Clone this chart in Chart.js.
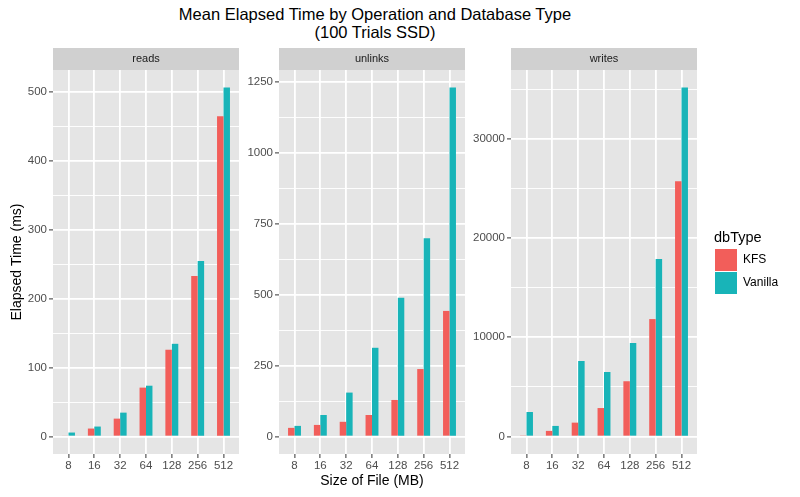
<!DOCTYPE html>
<html><head><meta charset="utf-8">
<script src="https://cdn.jsdelivr.net/npm/chart.js@4/dist/chart.umd.min.js"></script>
<style>
body{margin:0;background:#fff;width:800px;height:497px;overflow:hidden;position:relative;font-family:"Liberation Sans",Arial,sans-serif}
canvas{position:absolute}
#title{position:absolute;left:53px;width:644px;top:5px;text-align:center;font-size:16.5px;line-height:18px;color:#000}
</style></head><body>
<div id="title">Mean Elapsed Time by Operation and Database Type<br>(100 Trials SSD)</div>
<canvas id="c1" width="242" height="457" style="left:0;top:40px"></canvas>
<canvas id="c2" width="227" height="457" style="left:240px;top:40px"></canvas>
<canvas id="c3" width="333" height="457" style="left:467px;top:40px"></canvas>
<script>
const fileSizes = ['8','16','32','64','128','256','512'];
const dbTypes = ['KFS','Vanilla'];
const panels = ['reads','unlinks','writes'];
const readsKFS = [1.4, 11.6, 26, 71, 126, 233, 465];
const readsVanilla = [5.8, 14.5, 34.7, 73.8, 134.6, 254.8, 506.7];
const unlinksKFS = [30.6, 41, 52, 76, 129, 238, 443];
const unlinksVanilla = [37.6, 76, 155, 313, 489, 699, 1231];
const writesKFS = [70, 570, 1400, 2870, 5570, 11830, 25710];
const writesVanilla = [2470, 1070, 7610, 6500, 9420, 17870, 35160];
const readsTicks = [0, 100, 200, 300, 400, 500];
const unlinksTicks = [0, 250, 500, 750, 1000, 1250];
const writesTicks = [0, 10000, 20000, 30000];
const xTitle = 'Size of File (MB)';
const yTitle = 'Elapsed Time (ms)';
const legendTitle = 'dbType';

const FAM = '"Liberation Sans", Arial, sans-serif';
const COL_KFS = '#F25E5A', COL_VAN = '#18B4B8';

const panelBg = {
  id: 'panelBg',
  beforeDraw(chart, args, o) {
    const {ctx, chartArea: a} = chart;
    ctx.save();
    ctx.fillStyle = '#E5E5E5';
    ctx.fillRect(a.left, a.top, a.right - a.left, a.bottom - a.top);
    ctx.fillStyle = '#D0D0D0';
    ctx.fillRect(a.left, a.top - 22, a.right - a.left, 22);
    ctx.fillStyle = '#1A1A1A';
    ctx.font = '11px ' + FAM;
    ctx.textAlign = 'center';
    ctx.textBaseline = 'middle';
    ctx.fillText(o.text, (a.left + a.right) / 2, a.top - 11);
    ctx.restore();
  }
};
const legendShift = {
  id: 'legendShift',
  afterLayout(chart, args, o) {
    if (chart.legend && o && o.left != null && chart.options.plugins.legend.display) {
      const L = chart.legend;
      const w = L.width, h = L.height;
      L.left = o.left; L.right = o.left + w;
      L.top = o.top; L.bottom = o.top + h;
    }
  }
};

function makePanel(id, name, kfs, van, majors, yW, padRight, extra) {
  const ymax = Math.max(...kfs, ...van);
  const step = majors[1] - majors[0];
  const lo = -0.05 * ymax, hi = 1.05 * ymax;
  const all = [];
  for (let v = majors[0] - step / 2; v <= hi; v += step / 2) if (v >= lo) all.push(v);
  const isMajor = v => majors.includes(v);
  const opts = {
    responsive: false, animation: false, devicePixelRatio: 1,
    layout: {padding: {top: 30, right: padRight, left: 0, bottom: 0}},
    plugins: {
      legend: {display: false},
      tooltip: {enabled: false},
      panelBg: {text: name},
      legendShift: {}
    },
    scales: {
      x: {
        type: 'linear', min: 0.4, max: 7.6, offset: false,
        afterBuildTicks: s => { s.ticks = fileSizes.map((_, i) => ({value: i + 1})); },
        afterFit: s => { s.height = 43; },
        ticks: {callback: v => fileSizes[Math.round(v) - 1], color: '#4D4D4D', font: {size: 11.5, family: FAM}, padding: 1, autoSkip: false, maxRotation: 0},
        grid: {offset: false, color: '#FFFFFF', lineWidth: 1.8, tickColor: '#333333', tickLength: 4, tickWidth: 1},
        border: {display: false},
        title: {display: false}
      },
      y: {
        type: 'linear', min: lo, max: hi,
        afterBuildTicks: s => { s.ticks = all.map(v => ({value: v})); },
        afterFit: s => { s.width = yW; },
        ticks: {callback: v => isMajor(v) ? String(v) : '', color: '#4D4D4D', font: {size: 11.5, family: FAM}, padding: 2, autoSkip: false},
        grid: {
          color: '#FFFFFF',
          lineWidth: c => (c.tick && isMajor(c.tick.value)) ? 1.8 : 0.9,
          tickColor: c => (c.tick && isMajor(c.tick.value)) ? '#333333' : 'rgba(0,0,0,0)',
          tickLength: 4, tickWidth: 1
        },
        border: {display: false},
        title: {display: false}
      }
    }
  };
  if (extra) extra(opts);
  return new Chart(document.getElementById(id), {
    type: 'bar',
    data: {
      datasets: [
        {label: dbTypes[0], data: kfs.map((v, i) => ({x: i + 1, y: v})), backgroundColor: COL_KFS, borderWidth: 0, categoryPercentage: 0.5, barPercentage: 1.0},
        {label: dbTypes[1], data: van.map((v, i) => ({x: i + 1, y: v})), backgroundColor: COL_VAN, borderWidth: 0, categoryPercentage: 0.5, barPercentage: 1.0}
      ]
    },
    options: opts,
    plugins: [panelBg, legendShift]
  });
}

makePanel('c1', panels[0], readsKFS, readsVanilla, readsTicks, 53, 3, o => {
  o.scales.y.title = {display: true, text: yTitle, color: '#000', font: {size: 14, family: FAM}, padding: {top: 9, bottom: 0}};
});
makePanel('c2', panels[1], unlinksKFS, unlinksVanilla, unlinksTicks, 39, 2, o => {
  o.scales.x.title = {display: true, text: xTitle, color: '#000', font: {size: 14, family: FAM}, padding: {top: 0, bottom: 7}};
});
const c3 = makePanel('c3', panels[2], writesKFS, writesVanilla, writesTicks, 44, 0, o => {
  o.plugins.legend = {
    display: true, position: 'right', align: 'start',
    title: {display: true, text: legendTitle, color: '#000', font: {size: 14.5, family: FAM}, padding: {top: 0, bottom: 0}, position: 'start'},
    labels: {boxWidth: 22, boxHeight: 22, padding: 1, color: '#000', font: {size: 12, family: FAM}}
  };
  o.plugins.legendShift = {left: 247, top: 190.5};
});
const diff = c3.chartArea.right - 230;
c3.options.layout.padding.right += diff;
c3.update();
</script>
</body></html>
